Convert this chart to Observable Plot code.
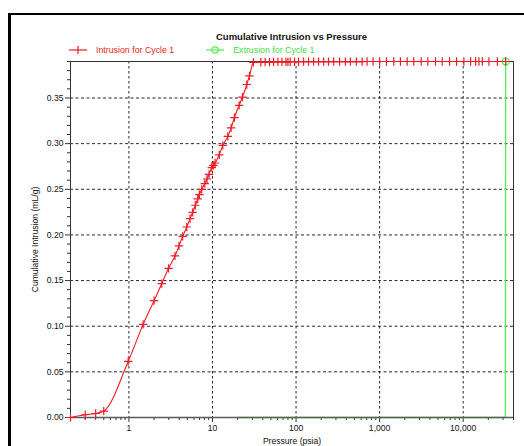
<!DOCTYPE html>
<html>
<head>
<meta charset="utf-8">
<script src="https://cdn.jsdelivr.net/npm/d3@7"></script>
<script src="https://cdn.jsdelivr.net/npm/@observablehq/plot@0.6"></script>
<style>
  html, body { margin: 0; padding: 0; background: #fff; }
  #wrap { position: relative; width: 524px; height: 446px; overflow: hidden; font-family: "Liberation Sans", Arial, sans-serif; }
  #border { position: absolute; left: 8px; top: 13px; width: 700px; height: 700px; border-left: 3px solid #000; border-top: 2.5px solid #000; }
  #title { position: absolute; left: 70px; width: 443px; top: 31px; text-align: center; font-weight: bold; font-size: 9.5px; color: #111; }
  #legend { position: absolute; left: 68px; top: 45px; font-size: 8.8px; display: flex; align-items: center; }
  #legend .item { display: flex; align-items: center; margin-right: 31px; }
  #legend svg { margin-right: 8px; }
  #chart { position: absolute; left: 0; top: 50px; }
</style>
</head>
<body>
<div id="wrap">
  <div id="border"></div>
  <div id="title">Cumulative Intrusion vs Pressure</div>
  <div id="legend"></div>
  <div id="chart"></div>
</div>
<script>
// Data
const intrusionPressure = [0.2, 0.3, 0.4, 0.5, 0.98, 1.48, 2.0, 2.47, 2.98, 3.56, 3.98, 4.40, 4.92, 5.39, 5.80, 6.24, 6.66, 6.97, 7.44, 8.09, 8.61, 9.10, 9.81, 10.25, 10.74, 12.06, 13.29, 15.26, 16.71, 18.31, 20.84, 22.83, 25.77, 27.7, 30.9,
  37.9, 42.7, 48.1, 53.7, 60.7, 67.8, 75.7, 80.0, 85.2, 95.9, 107, 123, 141, 162, 186, 214, 245, 282, 332, 389, 447, 527, 617, 708, 836, 1002, 1207, 1476, 1775, 2137, 2565, 3147, 3776, 4667, 5614, 6871, 8337, 10190, 12270, 14090, 15420, 16950, 20330, 25640, 32240];
const intrusionValue = [0.000, 0.003, 0.0044, 0.0069, 0.0614, 0.102, 0.128, 0.1466, 0.1634, 0.177, 0.188, 0.1985, 0.2087, 0.2179, 0.2248, 0.2325, 0.2394, 0.2442, 0.250, 0.2563, 0.2613, 0.2664, 0.2738, 0.2763, 0.2788, 0.2878, 0.2982, 0.308, 0.3172, 0.3286, 0.342, 0.351, 0.3648, 0.3742, 0.3890,
  0.3892, 0.3893, 0.3894, 0.3895, 0.3895, 0.3896, 0.3896, 0.3896, 0.3897, 0.3897, 0.3897, 0.3898, 0.3898, 0.3898, 0.3898, 0.3899, 0.3899, 0.3899, 0.3899, 0.3899, 0.3899, 0.3899, 0.3899, 0.39, 0.39, 0.39, 0.39, 0.39, 0.39, 0.39, 0.39, 0.39, 0.39, 0.39, 0.39, 0.39, 0.39, 0.39, 0.39, 0.39, 0.39, 0.39, 0.39, 0.39, 0.39];
const extrusionPressure = [32240, 32000, 20];
const extrusionValue = [0.39, 0.0, 0.0];
const extrusionMarked = [true, false, false];

const xMajorTicks = [1, 10, 100, 1000, 10000];
const yMajorTicks = [0, 0.05, 0.10, 0.15, 0.20, 0.25, 0.30, 0.35];
const yGridTicks = [0.05, 0.10, 0.15, 0.20, 0.25, 0.30, 0.35];
const seriesNames = ["Intrusion for Cycle 1", "Extrusion for Cycle 1"];
const seriesColors = ["#ee1c25", "#55ee55"];

const intrusion = intrusionPressure.map((p, i) => ({p, v: intrusionValue[i]}));
const extrusion = extrusionPressure.map((p, i) => ({p, v: extrusionValue[i], m: extrusionMarked[i]}));

const xMinor = [];
for (let e = -1; e <= 4; e++) for (let k = 2; k <= 9; k++) {
  const t = k * Math.pow(10, e);
  if (t >= 0.2 && t <= 40000) xMinor.push(t);
}
const yMinor = d3.range(0, 40).map(i => i / 100).filter(t => t <= 0.39 && Math.round(t * 100) % 5 !== 0);

const chart = Plot.plot({
  width: 524,
  height: 396,
  marginLeft: 70,
  marginRight: 11,
  marginTop: 11,
  marginBottom: 29,
  style: {fontFamily: "Liberation Sans, Arial, sans-serif", fontSize: "8.6px", color: "#111", background: "transparent"},
  x: {type: "log", domain: [0.2, 40000]},
  y: {domain: [0, 0.39]},
  marks: [
    Plot.gridY(yGridTicks, {stroke: "#000", strokeOpacity: 0.85, strokeDasharray: "3,2.5"}),
    Plot.gridX(xMajorTicks, {stroke: "#000", strokeOpacity: 0.85, strokeDasharray: "2.5,2.5"}),
    Plot.frame({stroke: "#333"}),
    Plot.axisX(xMinor, {tickSize: 3, tickFormat: () => "", label: null, stroke: "#333"}),
    Plot.axisX(xMajorTicks, {tickSize: 5, tickPadding: 2, tickFormat: d3.format(","), label: "Pressure (psia)", labelAnchor: "center", labelArrow: "none", labelOffset: 26, stroke: "#333", fontSize: "8.6px"}),
    Plot.axisY(yMinor, {tickSize: 3, tickFormat: () => "", label: null, stroke: "#333"}),
    Plot.axisY(yMajorTicks, {tickSize: 5, tickPadding: 2, tickFormat: d3.format(".2f"), label: "Cumulative Intrusion (mL/g)", labelAnchor: "center", labelArrow: "none", labelOffset: 39, stroke: "#333"}),
    Plot.line(extrusion, {x: "p", y: "v", stroke: seriesColors[1], strokeWidth: 1.3}),
    Plot.ruleY([0], {stroke: "#5a5a5a", strokeWidth: 1.6}),
    Plot.dot(extrusion.filter(d => d.m), {x: "p", y: "v", r: 3.4, stroke: seriesColors[1], strokeWidth: 1.2, fill: "none"}),
    Plot.line(intrusion, {x: "p", y: "v", stroke: seriesColors[0], strokeWidth: 1.1, curve: "monotone-x"}),
    Plot.dot(intrusion, {x: "p", y: "v", symbol: "plus", r: 2.8, stroke: seriesColors[0], strokeWidth: 1.2})
  ]
});
document.getElementById("chart").appendChild(chart);

// Legend
const legend = d3.select("#legend");
seriesNames.forEach((name, i) => {
  const item = legend.append("div").attr("class", "item").style("color", i === 0 ? "#ee1c25" : "#3fdc3f");
  const svg = item.append("svg").attr("width", 20).attr("height", 10);
  svg.append("line").attr("x1", 1).attr("x2", 19).attr("y1", 5).attr("y2", 5).attr("stroke", seriesColors[i]).attr("stroke-width", 1.2);
  if (i === 0) {
    svg.append("line").attr("x1", 10).attr("x2", 10).attr("y1", 1).attr("y2", 9).attr("stroke", seriesColors[i]).attr("stroke-width", 1.2);
  } else {
    svg.append("circle").attr("cx", 10).attr("cy", 5).attr("r", 3.2).attr("fill", "none").attr("stroke", seriesColors[i]).attr("stroke-width", 1.2);
  }
  item.append("span").text(name);
});
</script>
</body>
</html>
